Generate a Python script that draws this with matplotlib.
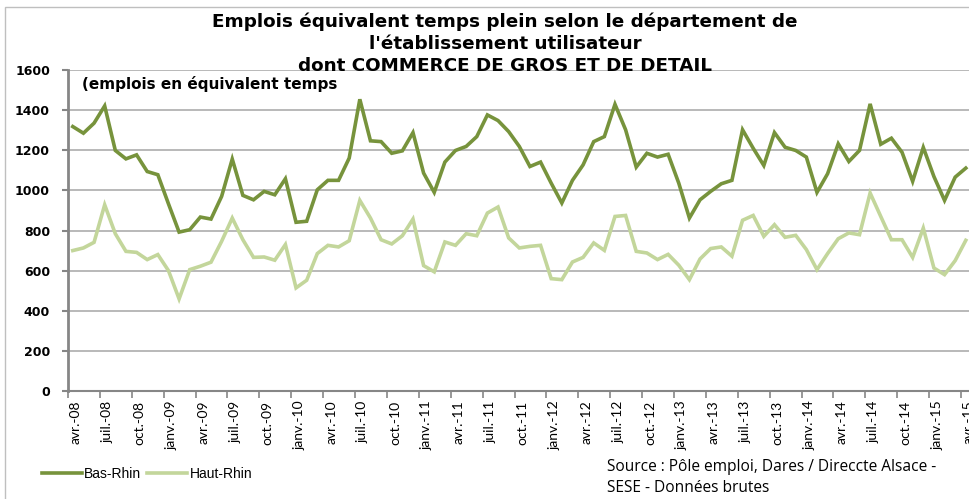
import matplotlib.pyplot as plt
from matplotlib.patches import Rectangle

# monthly values, avr.-08 .. avr.-15
months = ['janv.', 'févr.', 'mars', 'avr.', 'mai', 'juin', 'juil.', 'août',
          'sept.', 'oct.', 'nov.', 'déc.']
start_year = 2008
start_month = 3  # avr.

bas_rhin = [1318, 1285, 1335, 1421, 1199, 1157, 1177, 1094, 1078, 933,
            792, 804, 867, 857, 970, 1156, 975, 953, 995, 978,
            1058, 841, 846, 1003, 1050, 1050, 1161, 1454, 1247, 1243,
            1185, 1197, 1288, 1086, 990, 1141, 1199, 1219, 1268, 1376,
            1348, 1293, 1219, 1119, 1141, 1036, 937, 1050, 1127, 1243,
            1268, 1429, 1302, 1116, 1185, 1166, 1180, 1036, 862, 953,
            995, 1033, 1050, 1302, 1210, 1124, 1288, 1215, 1199, 1166,
            990, 1083, 1232, 1144, 1199, 1431, 1230, 1260, 1190, 1045,
            1214, 1069, 950, 1066, 1111]

haut_rhin = [700, 713, 741, 928, 784, 696, 691, 655, 680, 600,
             459, 605, 622, 642, 746, 862, 754, 666, 668, 652,
             730, 514, 552, 685, 726, 718, 749, 950, 862, 754,
             733, 774, 857, 625, 594, 743, 726, 784, 774, 887,
             917, 763, 713, 721, 726, 560, 555, 643, 666, 738,
             701, 870, 875, 696, 688, 655, 681, 627, 555, 658,
             710, 718, 672, 851, 875, 771, 829, 766, 776, 705,
             605, 685, 759, 788, 779, 987, 870, 754, 754, 666,
             812, 613, 580, 650, 751]

labels = []
for i in range(len(bas_rhin)):
    m = (start_month + i) % 12
    y = (start_year + (start_month + i) // 12) % 100
    labels.append(f"{months[m]}-{y:02d}")

dark = '#77933C'
light = '#C3D69B'
grid_c = '#A6A6A6'

fig = plt.figure(figsize=(9.69, 4.99), dpi=100)
ax = fig.add_axes([68 / 969, 108 / 499, 901 / 969, 321 / 499])

x = list(range(len(bas_rhin)))
ax.plot(x, bas_rhin, color=dark, lw=2.6, label='Bas-Rhin', solid_joinstyle='miter')
ax.plot(x, haut_rhin, color=light, lw=2.6, label='Haut-Rhin', solid_joinstyle='miter')

ax.set_xlim(-0.4, 84.3)
ax.set_ylim(0, 1600)
ax.set_yticks(range(0, 1601, 200))
ax.yaxis.grid(True, color=grid_c, lw=1.1)
ax.set_axisbelow(True)
for lab in ax.get_yticklabels():
    lab.set_fontweight('bold')
    lab.set_fontfamily('DejaVu Sans')
    lab.set_fontsize(9)
ax.tick_params(axis='y', length=4, color='#868686', width=1.5, pad=9)

# tick marks between categories, labels every 3 months
ax.set_xticks([i - 0.45 for i in x[::3]], minor=True)
ax.set_xticks([i + 0.3 for i in x[::3]])
ax.set_xticklabels(labels[::3], rotation=90, fontsize=10, family='Lato', va='top')
ax.tick_params(axis='x', which='major', length=0, pad=7)
ax.tick_params(axis='x', which='minor', length=5, color='#868686', width=1.2)

for s in ['top', 'right']:
    ax.spines[s].set_visible(False)
ax.spines['left'].set_color('#868686')
ax.spines['left'].set_linewidth(2)
ax.spines['bottom'].set_color('#868686')
ax.spines['bottom'].set_linewidth(1.5)

title_font = dict(ha='center', va='center', fontsize=13.2, fontweight='bold',
                  family='DejaVu Sans')
fig.text(505 / 969, 1 - 22 / 499, "Emplois équivalent temps plein selon le département de",
         **title_font)
fig.text(505 / 969, 1 - 44 / 499, "l'établissement utilisateur", **title_font)
fig.text(505 / 969, 1 - 66 / 499, "dont COMMERCE DE GROS ET DE DETAIL", **title_font)
fig.text(82 / 969, 1 - 84 / 499, "(emplois en équivalent temps",
         ha='left', va='center', fontsize=11, fontweight='bold', family='DejaVu Sans')

fig.text(607 / 969, 1 - 467 / 499, "Source : Pôle emploi, Dares / Direccte Alsace -",
         ha='left', va='center', fontsize=11.2, family='Open Sans')
fig.text(607 / 969, 1 - 488 / 499, "SESE - Données brutes",
         ha='left', va='center', fontsize=11.2, family='Open Sans')

leg = ax.legend(loc='center left', bbox_to_anchor=(42 / 969, 1 - 474 / 499),
                bbox_transform=fig.transFigure, ncol=2, frameon=False,
                prop={'family': 'Liberation Sans', 'size': 10},
                handlelength=2.9, handletextpad=0.15, columnspacing=0.4,
                borderaxespad=0, borderpad=0)

fig.patches.append(Rectangle((5 / 969, -0.1), 1.2, 1.1 - 7 / 499,
                             transform=fig.transFigure, fill=False,
                             edgecolor='#BFBFBF', lw=1))

fig.savefig('out.png', dpi=100)
